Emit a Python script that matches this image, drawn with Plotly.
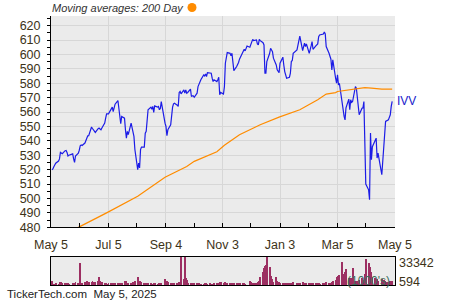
import pandas as pd
import plotly.graph_objects as go

# ---------------- data ----------------
holidays = ["2024-05-27", "2024-06-19", "2024-07-04", "2024-09-02", "2024-11-28",
            "2024-12-25", "2025-01-01", "2025-01-09", "2025-01-20", "2025-02-17",
            "2025-04-18"]

# IVV closing prices per month (one value per trading day)
may24 = [520, 520.5, 522, 524, 524.5, 526, 527.5, 532, 531.5, 531.1, 533.2, 533.4, 532,
         529.5, 530, 531, 527.5, 525.1, 529.5]
jun24 = [531.5, 533.5, 536.6, 537.1, 536.8, 538.5, 540.5, 543.1, 543.5, 543.6, 549.6, 548.6,
         546.5, 545.9, 548.5, 548.9, 548.2, 547.7, 549.0]
jul24 = [552.3, 555.8, 558.8, 558.8, 562.0, 563.4, 560.4, 563.4, 565.5, 568.0, 563.4, 558.1,
         551.9, 557.0, 555.8, 547.7, 541.9, 546.6, 544.3, 552.3, 548.2, 545.4]
aug24 = [543.1, 534.0, 520.0, 524.6, 521.2, 533.9, 535.7, 535.7, 545.4, 546.6, 555.8, 561.6,
         563.4, 562.0, 563.9, 559.7, 564.3, 563.4, 563.9, 561.6, 562.5, 567.3]
sep24 = [552.3, 550.0, 543.6, 547.7, 551.2, 559.7, 563.4, 565.7, 566.2, 564.8, 563.9, 573.6,
         574.3, 572.7, 575.4, 573.1, 575.4, 573.1, 573.6, 575.9]
oct24 = [570.8, 571.3, 571.3, 570.3, 573.1, 577.7, 579.6, 580.0, 582.4, 585.8, 585.1, 586.5,
         584.7, 587.4, 587.0, 587.0, 583.5, 581.2, 582.4, 581.2, 582.4, 584.2, 572.0]
nov24 = [573.6, 572.5, 577.7, 593.9, 599.0, 601.3, 600.8, 599.0, 600.8, 593.9, 588.8, 591.6,
         592.7, 594.4, 596.7, 598.1, 603.1, 603.6, 602.5, 605.9]
dec24 = [605.0, 607.3, 607.8, 610.5, 609.6, 610.1, 607.3, 606.6, 610.5, 609.6, 608.2, 606.6,
         587.0, 587.0, 595.1, 600.8, 604.3, 602.0, 597.4, 592.7, 589.3]
jan25 = [587.4, 593.9, 598.1, 592.7, 588.1, 583.5, 584.2, 587.0, 595.1, 595.8, 600.8, 603.1,
         605.9, 610.1, 612.8, 602.7, 606.6, 607.8, 605.5, 607.3]
feb25 = [600.8, 602.7, 605.9, 608.9, 603.6, 605.9, 606.6, 607.3, 612.4, 613.5, 614.2, 615.6,
         614.2, 605.5, 600.8, 598.1, 596.7, 589.3, 596.2]
mar25 = [583.5, 580.0, 585.8, 578.9, 580.0, 563.9, 561.6, 557.0, 554.6, 563.0, 569.0, 561.6,
         568.5, 566.7, 567.3, 577.7, 576.6, 570.8, 566.2, 558.1, 562.7]
apr25 = [563.0, 567.3, 545.0, 510.0, 506.0, 499.2, 545.4, 526.9, 536.0, 540.8, 541.9, 528.1,
         531.5, 516.5, 526.9, 538.5, 550.0, 553.5, 554.6, 557.0, 558.1]
may25 = [563.9, 567.5]

# Daily volume (1000's)
vol_may24 = [6000, 2600, 2400, 2500, 2700, 2600, 2800, 4400, 3900, 2900, 2700, 2800, 3000,
             3200, 2500, 3700, 3500, 2900, 4300]
vol_jun24 = [3000, 3200, 26000, 3300, 3500, 4200, 4800, 5000, 4400, 4800, 4500, 5200, 4600,
             4400, 5000, 10700, 5500, 4000, 4200]
vol_jul24 = [3200, 2800, 2500, 2700, 2900, 3000, 2800, 3100, 2900, 3000, 3200, 3300, 3100,
             2900, 3400, 6000, 5200, 3600, 3000, 3300, 3100, 3900]
vol_aug24 = [4800, 6000, 10700, 5600, 5000, 4500, 3300, 2900, 3000, 2800, 3000, 2800, 2700,
             2600, 2500, 2800, 2700, 2500, 2600, 2700, 2800, 3200]
vol_sep24 = [8300, 6000, 5000, 4500, 3800, 3400, 3600, 3200, 3000, 3300, 3400, 4000, 4200,
             33342, 7500, 32800, 8700, 7000, 3800, 3600]
vol_oct24 = [3500, 3000, 2700, 2800, 2900, 2600, 2700, 2500, 2600, 2400, 2700, 2800, 2600,
             2500, 2700, 2600, 2500, 2600, 3800, 2700, 2600, 2900, 4500]
vol_nov24 = [3900, 2900, 3200, 4500, 3400, 3100, 2800, 3000, 2900, 3200, 3500, 2800, 2900,
             3000, 3100, 2700, 3300, 2800, 2600, 594]
vol_dec24 = [5200, 4800, 3600, 3400, 3300, 3500, 3800, 4200, 6000, 9900, 15600, 21000, 23400,
             24000, 33000, 21400, 11800, 7900, 4000, 9900, 6000]
vol_jan25 = [4200, 3800, 3300, 3500, 3000, 3200, 2900, 3100, 3400, 2800, 4000, 3000, 2900,
             3100, 2800, 4500, 3300, 3000, 2900, 3200]
vol_feb25 = [3100, 2800, 2700, 2600, 2900, 2700, 2500, 2800, 2700, 2600, 2900, 2800, 3000,
             4200, 3800, 3600, 3400, 4500, 5200]
vol_mar25 = [6800, 9900, 8000, 11800, 13000, 27200, 13700, 12000, 15600, 19900, 9000, 8000,
             9500, 7000, 21000, 6000, 4500, 5000, 4800, 6500, 9000]
vol_apr25 = [6000, 7000, 14000, 31500, 26000, 19000, 21800, 16000, 10000, 8500, 6500, 8000,
             6000, 7500, 6500, 7000, 5500, 4500, 4200, 4000, 6000]
vol_may25 = [4500, 5000]

# 200-day moving average
ma_dates = ["2024-05-06", "2024-06-04", "2024-07-03", "2024-08-05", "2024-09-03",
            "2024-09-26", "2024-10-04", "2024-10-28", "2024-11-05", "2024-11-21",
            "2024-12-13", "2025-01-02", "2025-01-24", "2025-02-12", "2025-02-21",
            "2025-03-03", "2025-03-05", "2025-03-17", "2025-03-26", "2025-04-03",
            "2025-04-10", "2025-04-21", "2025-05-02"]
ma_vals = [469.5, 480.3, 490.0, 501.5, 514.8, 522.2, 525.8, 532.5, 537.0, 544.3, 551.2,
           556.5, 561.6, 568.5, 572.5, 573.5, 574.3, 575.4, 576.6, 577.0, 576.6, 575.9, 575.9]

tick_dates = ["2024-05-05", "2024-07-05", "2024-09-04", "2024-11-03", "2025-01-03",
              "2025-03-05", "2025-05-05"]
tick_text = ["May 5", "Jul 5", "Sep 4", "Nov 3", "Jan 3", "Mar 5", "May 5"]
minor_dates = ["2024-06-04", "2024-08-04", "2024-10-04", "2024-12-03", "2025-02-02",
               "2025-04-04"]
y_ticks = [480, 490, 500, 510, 520, 530, 540, 550, 560, 570, 580, 590, 600, 610, 620]
ticker = "IVV"
footer = "TickerTech.com  May 5, 2025"
legend_text = "Moving averages: 200 Day"

# ---------------- assemble ----------------
prices = (may24 + jun24 + jul24 + aug24 + sep24 + oct24 + nov24 + dec24 + jan25 + feb25
          + mar25 + apr25 + may25)
volumes = (vol_may24 + vol_jun24 + vol_jul24 + vol_aug24 + vol_sep24 + vol_oct24 + vol_nov24
           + vol_dec24 + vol_jan25 + vol_feb25 + vol_mar25 + vol_apr25 + vol_may25)
days = pd.bdate_range("2024-05-06", "2025-05-02")
days = days[~days.isin(pd.to_datetime(holidays))]
n = min(len(days), len(prices))
days_p = days[:n]
prices = prices[:n]
nv = min(len(days), len(volumes))
days_v = days[:nv]
volumes = volumes[:nv]

vmax, vmin = max(volumes), min(volumes)

TXT = "#3d3318"
FONT = "Liberation Sans, Arial, sans-serif"
BG = "#ebebeb"
GRID = "#d7d7d7"

fig = go.Figure()
fig.add_trace(go.Scatter(x=days_p, y=prices, mode="lines",
                         line=dict(color="#1c1ce6", width=1.2), xaxis="x", yaxis="y",
                         hoverinfo="skip"))
fig.add_trace(go.Scatter(x=pd.to_datetime(ma_dates), y=ma_vals, mode="lines",
                         line=dict(color="#ff8c00", width=1.2), xaxis="x", yaxis="y",
                         hoverinfo="skip"))
fig.add_trace(go.Bar(x=days_v, y=volumes, marker=dict(color="#9c2f62", line=dict(width=0)),
                     xaxis="x2", yaxis="y2", hoverinfo="skip"))

xr = [pd.Timestamp(tick_dates[0]), pd.Timestamp(tick_dates[-1])]
xd = [51 / 450, 395 / 450]

fig.update_layout(
    width=450, height=300, margin=dict(l=0, r=0, t=0, b=0, autoexpand=False),
    paper_bgcolor="white", plot_bgcolor=BG, showlegend=False, bargap=0,
    font=dict(family=FONT, color=TXT, size=12),
    xaxis=dict(domain=xd, range=xr, type="date", anchor="y", automargin=False,
               tickvals=pd.to_datetime(tick_dates), ticktext=tick_text,
               tickfont=dict(size=12.5, color=TXT), ticks="inside", ticklen=4,
               tickcolor="black", showline=True, linecolor="black", linewidth=1,
               showgrid=True, gridcolor=GRID, gridwidth=1, zeroline=False,
               minor=dict(tickvals=pd.to_datetime(minor_dates), ticks="inside", ticklen=4,
                          tickcolor="black", showgrid=False),
               ticklabelstandoff=6),
    yaxis=dict(domain=[1 - 227.3 / 300, 1 - 16 / 300], range=[480, 626.7], anchor="x",
               automargin=False,
               tickvals=y_ticks, tickfont=dict(size=12.5, color=TXT), ticks="outside",
               ticklen=3, tickcolor="black", showline=True, linecolor="black",
               linewidth=1, showgrid=True, gridcolor=GRID, gridwidth=1, zeroline=False,
               minor=dict(dtick=5, tick0=480, ticks="outside", ticklen=3,
                          tickcolor="black", showgrid=False),
               ticklabelstandoff=4),
    xaxis2=dict(domain=xd, range=xr, type="date", anchor="y2", showticklabels=False,
                automargin=False,
                ticks="", showgrid=False, showline=True, mirror=True, linecolor="black",
                linewidth=1, zeroline=False),
    yaxis2=dict(domain=[1 - 285 / 300, 1 - 256.7 / 300], range=[vmin, vmax], anchor="x2",
                automargin=False,
                showticklabels=False, ticks="", showgrid=False, showline=True, mirror=True,
                linecolor="black", linewidth=1, zeroline=False),
)

ann = []
ann.append(dict(text="<i>" + legend_text + "</i>", xref="paper", yref="paper",
                x=50 / 450, y=1 - 8 / 300, xanchor="left", yanchor="middle",
                showarrow=False, font=dict(size=11, color="#333333", family=FONT)))
ann.append(dict(text=ticker, xref="x", yref="y", x=days_p[-1], y=prices[-1],
                xanchor="left", yanchor="middle", xshift=3, showarrow=False,
                font=dict(size=12, color="#2222cc", family=FONT)))
ann.append(dict(text=str(vmax), xref="paper", yref="paper", x=396.5 / 450,
                y=1 - 262.7 / 300, xanchor="left", yanchor="middle", showarrow=False,
                font=dict(size=12.5, color=TXT, family=FONT)))
ann.append(dict(text=str(vmin), xref="paper", yref="paper", x=396.5 / 450,
                y=1 - 282 / 300, xanchor="left", yanchor="middle", showarrow=False,
                font=dict(size=12.5, color=TXT, family=FONT)))
ann.append(dict(text="(1000's)", xref="paper", yref="paper", x=392 / 450,
                y=1 - 281 / 300, xanchor="right", yanchor="middle", showarrow=False,
                font=dict(size=12, color="#3c6e5c", family=FONT)))
ann.append(dict(text=footer, xref="paper", yref="paper", x=5 / 450, y=1 - 294.3 / 300,
                xanchor="left", yanchor="middle", showarrow=False,
                font=dict(size=11.5, color="#222222", family=FONT)))
fig.update_layout(annotations=ann)

fig.add_shape(type="circle", xref="paper", yref="paper", x0=187.5 / 450, x1=196.5 / 450,
              y0=1 - 12 / 300, y1=1 - 3 / 300, fillcolor="#ff8c00", line=dict(width=0))

fig.write_html("out.html")
